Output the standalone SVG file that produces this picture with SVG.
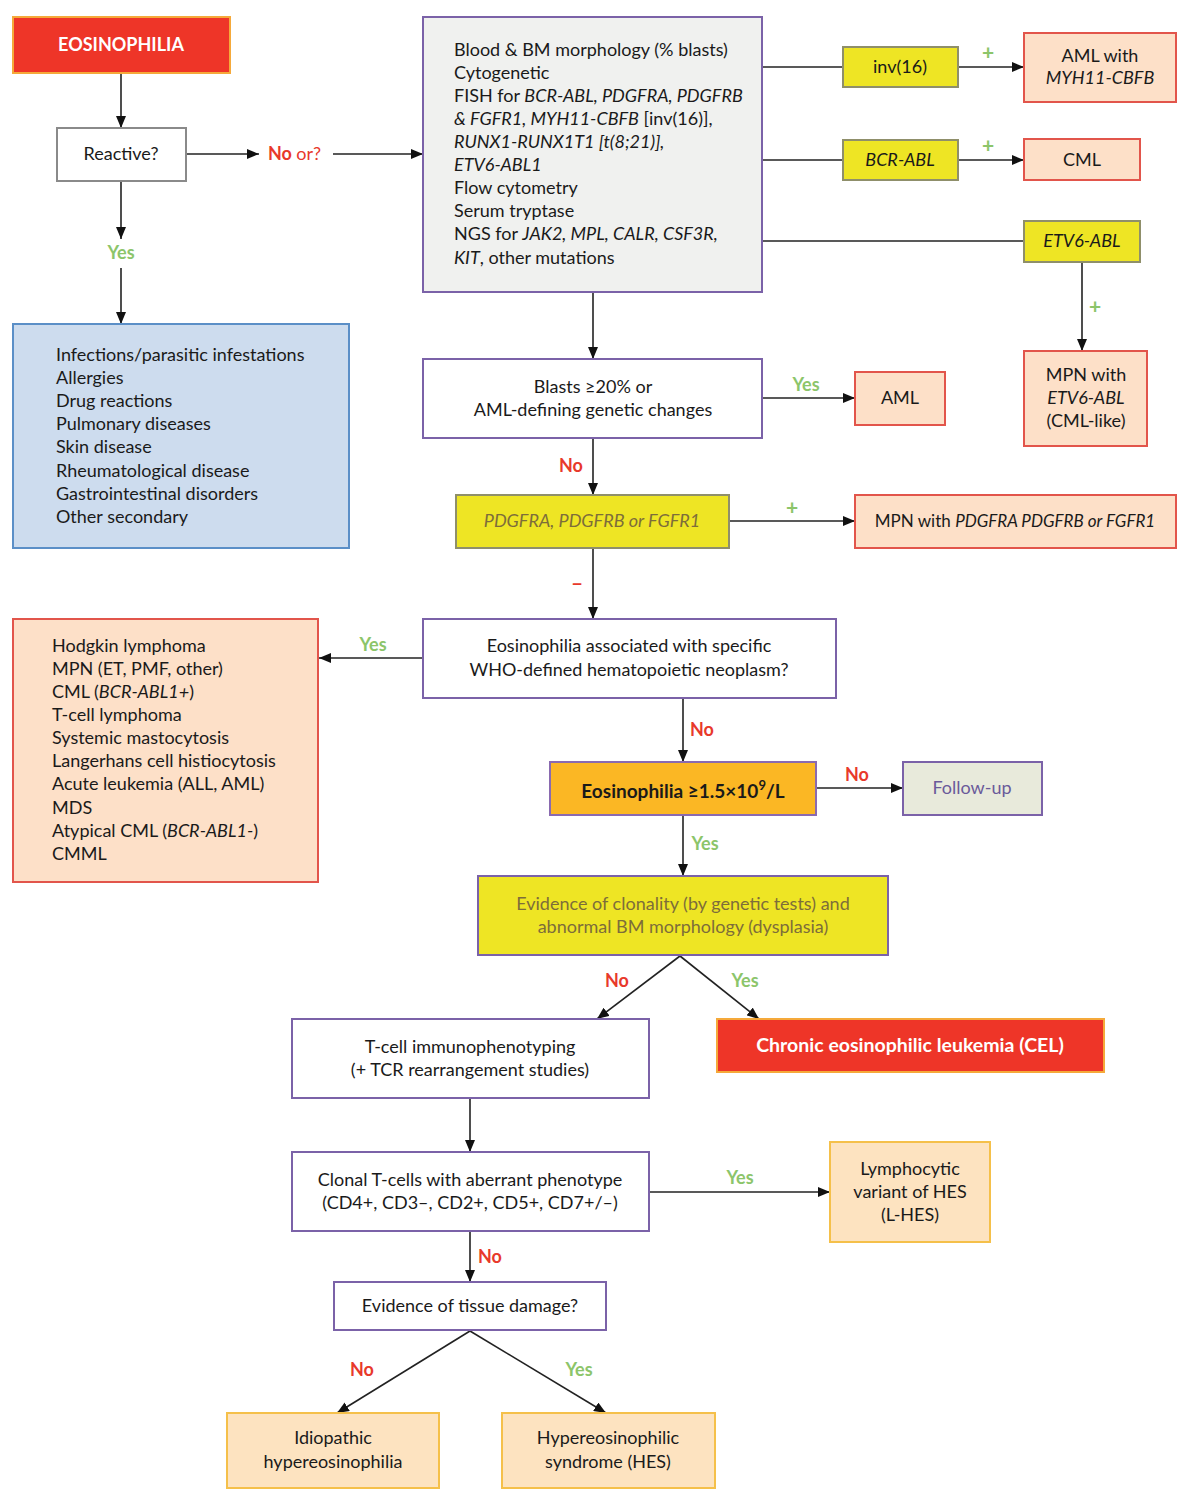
<svg xmlns="http://www.w3.org/2000/svg" width="1204" height="1503" viewBox="0 0 1204 1503">
<defs>
<marker id="ah" markerUnits="userSpaceOnUse" markerWidth="12" markerHeight="10" refX="12" refY="5" orient="auto">
<path d="M0,0 L12,5 L0,10 z" fill="#111"/>
</marker>
<style>
text{font-family:Lato,"Open Sans","Liberation Sans",sans-serif;font-size:18px;fill:#1a1a1a}
.c{text-anchor:middle}
.i{font-style:italic}
.b{font-weight:bold}
.red{fill:#ee3528;stroke:#f5a93a;stroke-width:2}
.sal{fill:#fde0c8;stroke:#e2554b;stroke-width:2}
.yel{fill:#eee524;stroke:#8f8f6a;stroke-width:2}
.yelp{fill:#eee524;stroke:#7b62a8;stroke-width:2}
.wp{fill:#fff;stroke:#7b62a8;stroke-width:2}
.lo{fill:#fde3c0;stroke:#f5c04a;stroke-width:2}
.no{fill:#e8392b;font-weight:bold}
.yes{fill:#8cc56a;font-weight:bold}
.plus{fill:#8cc56a;font-weight:bold;font-size:21px}
.ol{fill:#7d6d3a}
.wt{fill:#fff;font-weight:bold}
#conn line{stroke:#222;stroke-width:1.6;fill:none}
</style>
</defs>

<g id="conn">
<line x1="121" y1="73" x2="121" y2="128" marker-end="url(#ah)"/>
<line x1="186" y1="154" x2="259" y2="154" marker-end="url(#ah)"/>
<line x1="333" y1="154" x2="423" y2="154" marker-end="url(#ah)"/>
<line x1="121" y1="181" x2="121" y2="239" marker-end="url(#ah)"/>
<line x1="121" y1="268" x2="121" y2="324" marker-end="url(#ah)"/>
<line x1="762" y1="67" x2="843" y2="67"/>
<line x1="958" y1="67" x2="1024" y2="67" marker-end="url(#ah)"/>
<line x1="762" y1="160" x2="843" y2="160"/>
<line x1="958" y1="160" x2="1024" y2="160" marker-end="url(#ah)"/>
<line x1="762" y1="241" x2="1024" y2="241"/>
<line x1="1082" y1="262" x2="1082" y2="351" marker-end="url(#ah)"/>
<line x1="593" y1="292" x2="593" y2="359" marker-end="url(#ah)"/>
<line x1="762" y1="398" x2="855" y2="398" marker-end="url(#ah)"/>
<line x1="593" y1="438" x2="593" y2="495" marker-end="url(#ah)"/>
<line x1="729" y1="521" x2="855" y2="521" marker-end="url(#ah)"/>
<line x1="593" y1="548" x2="593" y2="619" marker-end="url(#ah)"/>
<line x1="423" y1="658" x2="319" y2="658" marker-end="url(#ah)"/>
<line x1="683" y1="698" x2="683" y2="762" marker-end="url(#ah)"/>
<line x1="816" y1="788" x2="903" y2="788" marker-end="url(#ah)"/>
<line x1="683" y1="815" x2="683" y2="876" marker-end="url(#ah)"/>
<line x1="680" y1="956" x2="597" y2="1019" marker-end="url(#ah)"/>
<line x1="680" y1="956" x2="759" y2="1019" marker-end="url(#ah)"/>
<line x1="470" y1="1098" x2="470" y2="1152" marker-end="url(#ah)"/>
<line x1="649" y1="1192" x2="830" y2="1192" marker-end="url(#ah)"/>
<line x1="470" y1="1231" x2="470" y2="1282" marker-end="url(#ah)"/>
<line x1="470" y1="1331" x2="337" y2="1413" marker-end="url(#ah)"/>
<line x1="470" y1="1331" x2="606" y2="1413" marker-end="url(#ah)"/>
</g>

<g id="labels">
<text x="268" y="160" class="no">No <tspan style="font-weight:normal">or?</tspan></text>
<text x="121" y="259" class="c yes">Yes</text>
<text x="988" y="60" class="c plus">+</text>
<text x="988" y="153" class="c plus">+</text>
<text x="1095" y="314" class="c plus">+</text>
<text x="806" y="391" class="c yes">Yes</text>
<text x="571" y="472" class="c no">No</text>
<text x="792" y="515" class="c plus">+</text>
<text x="577" y="590" class="c no" style="font-size:21px">–</text>
<text x="373" y="651" class="c yes">Yes</text>
<text x="702" y="736" class="c no">No</text>
<text x="857" y="781" class="c no">No</text>
<text x="705" y="850" class="c yes">Yes</text>
<text x="617" y="987" class="c no">No</text>
<text x="745" y="987" class="c yes">Yes</text>
<text x="740" y="1184" class="c yes">Yes</text>
<text x="490" y="1263" class="c no">No</text>
<text x="362" y="1376" class="c no">No</text>
<text x="579" y="1376" class="c yes">Yes</text>
</g>

<g id="eosinophilia">
<rect x="13" y="17" width="217" height="56" class="red"/>
<text x="121" y="51" class="c wt">EOSINOPHILIA</text>
</g>

<g id="reactive">
<rect x="57" y="128" width="129" height="53" fill="#fff" stroke="#8a8a8a" stroke-width="2"/>
<text x="121" y="160" class="c">Reactive?</text>
</g>

<g id="secondary">
<rect x="13" y="324" width="336" height="224" fill="#cddcee" stroke="#5b8fc7" stroke-width="2"/>
<text x="56" y="361">Infections/parasitic infestations</text>
<text x="56" y="384">Allergies</text>
<text x="56" y="407">Drug reactions</text>
<text x="56" y="430">Pulmonary diseases</text>
<text x="56" y="453">Skin disease</text>
<text x="56" y="477">Rheumatological disease</text>
<text x="56" y="500">Gastrointestinal disorders</text>
<text x="56" y="523">Other secondary</text>
</g>

<g id="workup">
<rect x="423" y="17" width="339" height="275" fill="#f0f1ef" stroke="#7b62a8" stroke-width="2"/>
<text x="454" y="56">Blood &amp; BM morphology (% blasts)</text>
<text x="454" y="79">Cytogenetic</text>
<text x="454" y="102">FISH for <tspan class="i">BCR-ABL, PDGFRA, PDGFRB</tspan></text>
<text x="454" y="125"><tspan class="i">&amp; FGFR1, MYH11-CBFB</tspan> [inv(16)],</text>
<text x="454" y="148" class="i">RUNX1-RUNX1T1 [t(8;21)],</text>
<text x="454" y="171" class="i">ETV6-ABL1</text>
<text x="454" y="194">Flow cytometry</text>
<text x="454" y="217">Serum tryptase</text>
<text x="454" y="240">NGS for <tspan class="i">JAK2, MPL, CALR, CSF3R,</tspan></text>
<text x="454" y="264"><tspan class="i">KIT</tspan>, other mutations</text>
</g>

<g id="inv16">
<rect x="843" y="47" width="115" height="40" class="yel"/>
<text x="900" y="73" class="c">inv(16)</text>
</g>
<g id="aml-myh11">
<rect x="1024" y="33" width="152" height="69" class="sal"/>
<text x="1100" y="62" class="c">AML with</text>
<text x="1100" y="84" class="c i">MYH11-CBFB</text>
</g>

<g id="bcr-abl">
<rect x="843" y="140" width="115" height="40" class="yel"/>
<text x="900" y="166" class="c i">BCR-ABL</text>
</g>
<g id="cml">
<rect x="1024" y="139" width="116" height="41" class="sal"/>
<text x="1082" y="166" class="c">CML</text>
</g>

<g id="etv6-abl">
<rect x="1024" y="221" width="116" height="41" class="yel"/>
<text x="1082" y="247" class="c i">ETV6-ABL</text>
</g>
<g id="mpn-etv6">
<rect x="1024" y="351" width="123" height="95" class="sal"/>
<text x="1086" y="381" class="c">MPN with</text>
<text x="1086" y="404" class="c i">ETV6-ABL</text>
<text x="1086" y="427" class="c">(CML-like)</text>
</g>

<g id="blasts">
<rect x="423" y="359" width="339" height="79" class="wp"/>
<text x="593" y="393" class="c">Blasts  ≥20% or</text>
<text x="593" y="416" class="c">AML-defining genetic changes</text>
</g>
<g id="aml">
<rect x="855" y="372" width="90" height="53" class="sal"/>
<text x="900" y="404" class="c">AML</text>
</g>

<g id="pdgf">
<rect x="456" y="495" width="273" height="53" class="yel"/>
<text x="592" y="527" class="c i ol">PDGFRA, PDGFRB or FGFR1</text>
</g>
<g id="mpn-pdgf">
<rect x="855" y="495" width="321" height="53" class="sal"/>
<text x="1015" y="527" class="c" style="font-size:17px">MPN with <tspan class="i">PDGFRA PDGFRB or FGFR1</tspan></text>
</g>

<g id="who">
<rect x="423" y="619" width="413" height="79" class="wp"/>
<text x="629" y="652" class="c">Eosinophilia associated with specific</text>
<text x="629" y="676" class="c">WHO-defined hematopoietic neoplasm?</text>
</g>

<g id="neoplasms">
<rect x="13" y="619" width="305" height="263" class="sal"/>
<text x="52" y="652">Hodgkin lymphoma</text>
<text x="52" y="675">MPN (ET, PMF, other)</text>
<text x="52" y="698">CML (<tspan class="i">BCR-ABL1+</tspan>)</text>
<text x="52" y="721">T-cell lymphoma</text>
<text x="52" y="744">Systemic mastocytosis</text>
<text x="52" y="767">Langerhans cell histiocytosis</text>
<text x="52" y="790">Acute leukemia (ALL, AML)</text>
<text x="52" y="814">MDS</text>
<text x="52" y="837">Atypical CML (<tspan class="i">BCR-ABL1-</tspan>)</text>
<text x="52" y="860">CMML</text>
</g>

<g id="count">
<rect x="550" y="762" width="266" height="53" fill="#fbb724" stroke="#8a6ab0" stroke-width="2"/>
<text x="683" y="798" class="c b" style="font-size:19px">Eosinophilia ≥1.5×10<tspan dy="-8" style="font-size:13px">9</tspan><tspan dy="8">/L</tspan></text>
</g>
<g id="followup">
<rect x="903" y="762" width="139" height="53" fill="#e8eadb" stroke="#7b62a8" stroke-width="2"/>
<text x="972" y="794" class="c" style="fill:#6a5a9a">Follow-up</text>
</g>

<g id="clonality">
<rect x="478" y="876" width="410" height="79" class="yelp"/>
<text x="683" y="910" class="c ol">Evidence of clonality (by genetic tests) and</text>
<text x="683" y="933" class="c ol">abnormal BM morphology (dysplasia)</text>
</g>

<g id="tcell">
<rect x="292" y="1019" width="357" height="79" class="wp"/>
<text x="470" y="1053" class="c">T-cell immunophenotyping</text>
<text x="470" y="1076" class="c">(+ TCR rearrangement studies)</text>
</g>
<g id="cel">
<rect x="717" y="1019" width="387" height="53" class="red"/>
<text x="910" y="1052" class="c wt" style="font-size:19.5px">Chronic eosinophilic leukemia (CEL)</text>
</g>

<g id="clonal-t">
<rect x="292" y="1152" width="357" height="79" class="wp"/>
<text x="470" y="1186" class="c">Clonal T-cells with aberrant phenotype</text>
<text x="470" y="1209" class="c">(CD4+, CD3–, CD2+, CD5+, CD7+/–)</text>
</g>
<g id="lhes">
<rect x="830" y="1142" width="160" height="100" class="lo"/>
<text x="910" y="1175" class="c">Lymphocytic</text>
<text x="910" y="1198" class="c">variant of HES</text>
<text x="910" y="1221" class="c">(L-HES)</text>
</g>

<g id="tissue">
<rect x="334" y="1282" width="272" height="48" class="wp"/>
<text x="470" y="1312" class="c">Evidence of tissue damage?</text>
</g>
<g id="idiopathic">
<rect x="227" y="1413" width="212" height="75" class="lo"/>
<text x="333" y="1444" class="c">Idiopathic</text>
<text x="333" y="1468" class="c">hypereosinophilia</text>
</g>
<g id="hes">
<rect x="502" y="1413" width="213" height="75" class="lo"/>
<text x="608" y="1444" class="c">Hypereosinophilic</text>
<text x="608" y="1468" class="c">syndrome (HES)</text>
</g>
</svg>
